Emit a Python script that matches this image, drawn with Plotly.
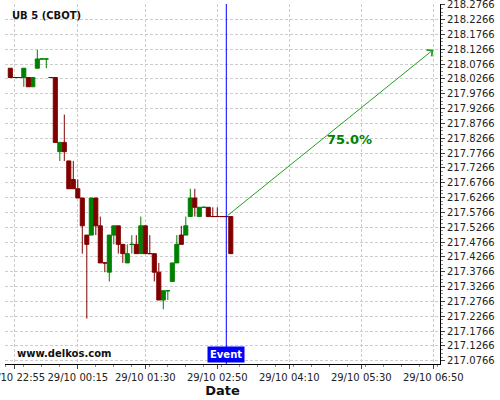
import plotly.graph_objects as go

# ---- data (prices) ----
opens = [218.0625, 218.03125, 218.03125, 218.03125, 218.03125, 218.0, 218.0625, 218.09375, 218.09375, 218.03125,
         218.03125, 217.78125, 217.8125, 217.75, 217.6875, 217.65625, 217.625, 217.5, 217.5, 217.625,
         217.53125, 217.40625, 217.375, 217.5, 217.53125, 217.46875, 217.40625, 217.46875, 217.46875, 217.4375,
         217.53125, 217.4375, 217.4375, 217.375, 217.28125, 217.3125, 217.34375, 217.40625, 217.5, 217.5,
         217.5625, 217.625, 217.5625, 217.59375, 217.59375, 217.5625, 217.5625, 217.5625, 217.5625, 217.5625]
highs = [218.0625, 218.03125, 218.03125, 218.0625, 218.03125, 218.03125, 218.125, 218.09375, 218.09375, 218.03125,
         218.03125, 217.8125, 217.90625, 217.75, 217.75, 217.6875, 217.625, 217.5, 217.625, 217.625,
         217.5625, 217.40625, 217.5, 217.53125, 217.53125, 217.46875, 217.46875, 217.5, 217.5, 217.5625,
         217.53125, 217.5, 217.4375, 217.40625, 217.3125, 217.3125, 217.40625, 217.5, 217.53125, 217.5625,
         217.65625, 217.65625, 217.59375, 217.59375, 217.59375, 217.59375, 217.59375, 217.5625, 217.5625, 217.5625]
lows = [218.03125, 218.03125, 218.03125, 218.0, 218.0, 218.0, 218.0625, 218.09375, 218.0625, 218.03125,
        217.8125, 217.75, 217.75, 217.65625, 217.65625, 217.625, 217.4375, 217.21875, 217.5, 217.5,
        217.40625, 217.375, 217.34375, 217.46875, 217.4375, 217.40625, 217.40625, 217.4375, 217.4375, 217.4375,
        217.4375, 217.4375, 217.34375, 217.28125, 217.25, 217.28125, 217.34375, 217.40625, 217.46875, 217.5,
        217.5625, 217.5625, 217.5625, 217.59375, 217.5625, 217.5625, 217.5625, 217.5625, 217.5625, 217.4375]
closes = [218.03125, 218.03125, 218.03125, 218.0625, 218.0, 218.03125, 218.09375, 218.09375, 218.09375, 218.03125,
          217.8125, 217.8125, 217.78125, 217.65625, 217.65625, 217.625, 217.53125, 217.46875, 217.625, 217.53125,
          217.40625, 217.40625, 217.5, 217.53125, 217.46875, 217.4375, 217.4375, 217.46875, 217.4375, 217.53125,
          217.4375, 217.4375, 217.375, 217.28125, 217.3125, 217.3125, 217.40625, 217.46875, 217.46875, 217.53125,
          217.625, 217.59375, 217.59375, 217.59375, 217.5625, 217.5625, 217.5625, 217.5625, 217.5625, 217.4375]
# flat candles drawn green (others follow open/close)
doji_up = [7, 8, 27, 35, 43]

tick_pos = [1, 15, 30, 46, 62, 78, 94]
tick_labels = ['28/10 22:55', '29/10 00:15', '29/10 01:30', '29/10 02:50',
               '29/10 04:10', '29/10 05:30', '29/10 06:50']
y_ticks = [round(217.0766 + 0.05 * k, 4) for k in range(25)]

event_idx = 48
arrow_start = 217.5625
arrow_end_idx = 94
arrow_end = 218.125
prob_label = '75.0%'
symbol = 'UB 5 (CBOT)'

GREEN = '#008000'
RED = '#800000'

xs = list(range(len(opens)))
up = [i for i in xs if closes[i] > opens[i] or (closes[i] == opens[i] and i in doji_up)]
dn = [i for i in xs if i not in up]

fig = go.Figure()
for idx, col in ((up, GREEN), (dn, RED)):
    fig.add_trace(go.Candlestick(
        x=[xs[i] for i in idx],
        open=[opens[i] for i in idx], high=[highs[i] for i in idx],
        low=[lows[i] for i in idx], close=[closes[i] for i in idx],
        increasing=dict(line=dict(color=col, width=1), fillcolor=col),
        decreasing=dict(line=dict(color=col, width=1), fillcolor=col),
        whiskerwidth=0, showlegend=False, hoverinfo='skip'))

fig.add_shape(type='line', xref='x', yref='paper', x0=event_idx, x1=event_idx, y0=0, y1=1,
              line=dict(color='#0000ff', width=1))

fig.add_annotation(x=arrow_end_idx, y=arrow_end, ax=event_idx, ay=arrow_start,
                   xref='x', yref='y', axref='x', ayref='y', text='', showarrow=True,
                   arrowhead=4, arrowsize=1.6, arrowwidth=1, arrowcolor='#22a022')
fig.add_annotation(x=0.791, y=0.625, xref='paper', yref='paper', xanchor='center', yanchor='middle',
                   text='<b>' + prob_label + '</b>',
                   showarrow=False, font=dict(family='DejaVu Sans', size=13, color=GREEN))
fig.add_annotation(x=0.0115, y=0.969, xref='paper', yref='paper', xanchor='left', yanchor='middle',
                   text='<b>' + symbol + '</b>', showarrow=False,
                   font=dict(family='DejaVu Sans', size=10, color='#111111'))
fig.add_annotation(x=0.023, y=0.028, xref='paper', yref='paper', xanchor='left', yanchor='middle',
                   text='<b>www.delkos.com</b>', showarrow=False,
                   font=dict(family='DejaVu Sans', size=10, color='#111111'))
fig.add_annotation(x=event_idx, y=0, xref='x', yref='paper', xanchor='center', yanchor='bottom', yshift=1,
                   text='<b>Event</b>', showarrow=False, bgcolor='#0000ff', borderpad=2,
                   font=dict(family='DejaVu Sans', size=10, color='white'))

fig.update_layout(
    width=500, height=400,
    margin=dict(l=5, r=60, t=4, b=36),
    paper_bgcolor='white', plot_bgcolor='white',
    font=dict(family='DejaVu Sans', size=10, color='#222222'),
    boxgap=0.05, boxgroupgap=0.05,
    xaxis=dict(range=[-1.18, 95.49], tickmode='array', tickvals=tick_pos, ticktext=tick_labels,
               automargin=False, ticklabeloverflow='allow',
               showgrid=True, gridcolor='#cccccc', griddash='3px,2px', gridwidth=1,
               showline=True, linecolor='black', linewidth=1, ticks='outside', ticklen=4,
               tickcolor='#444444', zeroline=False, rangeslider=dict(visible=False),
               minor=dict(tickmode='array', tickvals=[i for i in range(-1, 96, 4)],
                          ticks='outside', ticklen=2, tickcolor='#888888', showgrid=False),
               title=dict(text='<b>Date</b>', font=dict(size=13, color='#111111'), standoff=0),
               tickfont=dict(size=10)),
    yaxis=dict(range=[217.0655, 218.2790], side='right', tickmode='array', tickvals=y_ticks,
               ticktext=['%.4f' % v for v in y_ticks], automargin=False, ticklabeloverflow='allow',
               showgrid=True, gridcolor='#cccccc', griddash='3px,2px', gridwidth=1,
               showline=True, linecolor='black', linewidth=1, ticks='outside', ticklen=4,
               tickcolor='#444444', zeroline=False,
               minor=dict(dtick=0.0125, tick0=217.0766, ticks='outside', ticklen=2,
                          tickcolor='#888888', showgrid=False),
               tickfont=dict(size=10)),
)

fig.write_html('out.html', config={'displayModeBar': False},
               post_script="document.body.style.margin='0';")
